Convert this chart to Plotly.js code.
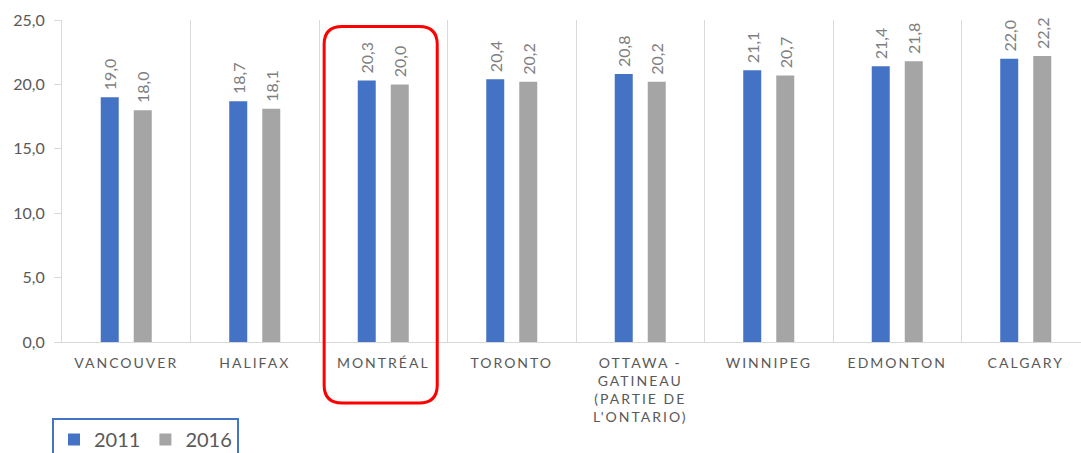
<!DOCTYPE html>
<html>
<head>
<meta charset="utf-8">
<script src="https://cdn.plot.ly/plotly-3.0.1.min.js"></script>
<style>
  html, body { margin: 0; padding: 0; background: #fff; }
  #chart { width: 1081px; height: 453px; }
  .xtick text { letter-spacing: 2px; }
</style>
</head>
<body>
<div id="chart"></div>
<script>
const categories = ['VANCOUVER', 'HALIFAX', 'MONTRÉAL', 'TORONTO', 'OTTAWA - GATINEAU (PARTIE DE L\'ONTARIO)', 'WINNIPEG', 'EDMONTON', 'CALGARY'];
const tickLabels = ['VANCOUVER', 'HALIFAX', 'MONTRÉAL', 'TORONTO', 'OTTAWA -<br>GATINEAU<br>(PARTIE DE<br>L\'ONTARIO)', 'WINNIPEG', 'EDMONTON', 'CALGARY'];
const values2011 = [19.0, 18.7, 20.3, 20.4, 20.8, 21.1, 21.4, 22.0];
const values2016 = [18.0, 18.1, 20.0, 20.2, 20.2, 20.7, 21.8, 22.2];
const seriesNames = ['2011', '2016'];
const highlighted = 'MONTRÉAL';

const W = 1081, H = 453;
const margin = {l: 62, r: 0, t: 20, b: 111, pad: 0, autoexpand: false};
const plotW = W - margin.l - margin.r;
const plotH = H - margin.t - margin.b;
const catPx = 128.5;
const xRange = [-0.5, -0.5 + plotW / catPx];
const yRange = [0, 25];

const FONT = 'Lato, "Open Sans", sans-serif';

function barTrace(name, vals, color) {
  return {
    type: 'bar', name: name, x: categories, y: vals,
    marker: {color: color},
    texttemplate: '\u00a0%{y:.1f}', textposition: 'outside', textangle: -90,
    textfont: {family: FONT, size: 16, color: '#7f7f7f'},
    constraintext: 'none', cliponaxis: false, hoverinfo: 'skip'
  };
}

// rounded highlight box around the highlighted category (paper coords)
const idx = categories.indexOf(highlighted);
const toPaperX = v => (v - xRange[0]) / (xRange[1] - xRange[0]);
const x0 = toPaperX(idx - 0.46), x1 = toPaperX(idx + 0.42);
const y1 = 24.5 / yRange[1];
const y0 = -61 / plotH;
const rx = 18 / plotW, ry = 18 / plotH;
const boxPath = `M ${x0+rx},${y1} L ${x1-rx},${y1} Q ${x1},${y1} ${x1},${y1-ry} L ${x1},${y0+ry} Q ${x1},${y0} ${x1-rx},${y0} L ${x0+rx},${y0} Q ${x0},${y0} ${x0},${y0+ry} L ${x0},${y1-ry} Q ${x0},${y1} ${x0+rx},${y1} Z`;

const data = [
  barTrace(seriesNames[0], values2011, '#4472C4'),
  barTrace(seriesNames[1], values2016, '#A5A5A5')
];

const layout = {
  width: W, height: H, margin: margin,
  paper_bgcolor: '#fff', plot_bgcolor: '#fff',
  separators: ', ',
  barmode: 'group', bargap: 0.486, bargroupgap: 0.455,
  font: {family: FONT, color: '#595959'},
  showlegend: true,
  legend: {
    orientation: 'h', x: -10 / plotW, xanchor: 'left', y: -76 / plotH, yanchor: 'top',
    bordercolor: '#4472C4', borderwidth: 2, bgcolor: '#fff',
    font: {family: FONT, size: 20, color: '#595959'},
    traceorder: 'normal'
  },
  xaxis: {
    type: 'category', range: xRange, tickson: 'boundaries',
    tickvals: categories, ticktext: tickLabels,
    showgrid: true, gridcolor: '#d9d9d9', gridwidth: 1,
    showline: true, linecolor: '#d9d9d9', linewidth: 1,
    ticks: '', ticklabelstandoff: 8,
    tickfont: {family: FONT, size: 14, color: '#595959'},
    fixedrange: true
  },
  yaxis: {
    range: yRange, tickvals: [0, 5, 10, 15, 20, 25], tickformat: '.1f',
    showgrid: false, zeroline: false,
    showline: true, linecolor: '#d9d9d9', linewidth: 1,
    ticks: 'outside', ticklen: 7, tickcolor: '#d9d9d9', ticklabelstandoff: 6,
    tickfont: {family: FONT, size: 16, color: '#595959'},
    fixedrange: true
  },
  shapes: [{
    type: 'path', xref: 'paper', yref: 'paper', path: boxPath,
    line: {color: '#FF0000', width: 3}, fillcolor: 'rgba(0,0,0,0)', layer: 'above'
  }]
};

Plotly.newPlot('chart', data, layout, {displayModeBar: false, staticPlot: true});
</script>
</body>
</html>
